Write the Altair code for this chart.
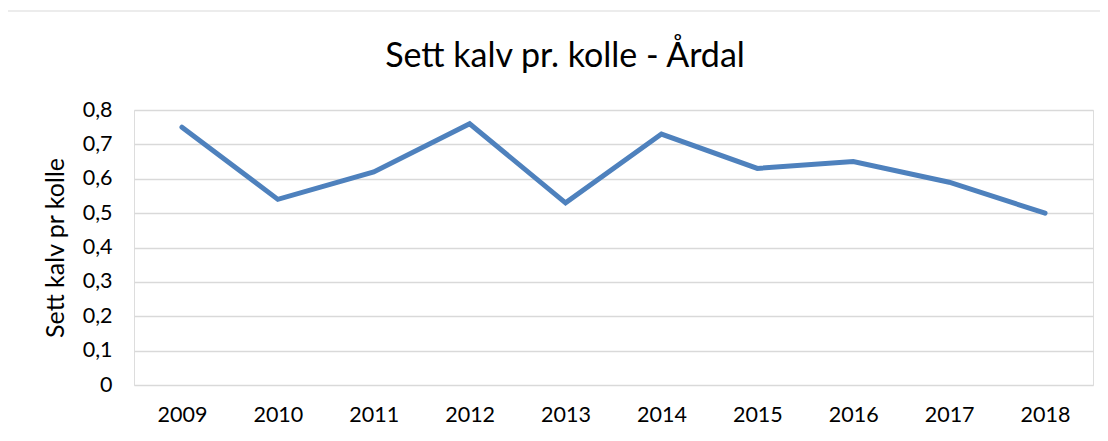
import altair as alt
import pandas as pd

years = ["2009", "2010", "2011", "2012", "2013", "2014", "2015", "2016", "2017", "2018"]
values = [0.75, 0.54, 0.62, 0.76, 0.53, 0.73, 0.63, 0.65, 0.59, 0.50]
y_ticks = [0, 0.1, 0.2, 0.3, 0.4, 0.5, 0.6, 0.7, 0.8]
title_text = "Sett kalv pr. kolle - Årdal"

df = pd.DataFrame({"year": years, "value": values})
FONT = "Lato"

border = alt.Chart(pd.DataFrame({"a": [0]})).mark_rect(
    fill=None, stroke="#d9d9d9", strokeWidth=1
).encode(
    x=alt.value(-129), x2=alt.value(969), y=alt.value(-99), y2=alt.value(340)
)

title = alt.Chart(pd.DataFrame({"t": [title_text]})).mark_text(
    font=FONT, fontSize=34, color="#000000", align="center", baseline="alphabetic"
).encode(text="t:N", x=alt.value(431), y=alt.value(-43))

line = alt.Chart(df).mark_line(
    color="#4e81bd", strokeWidth=5, strokeCap="round", strokeJoin="miter"
).encode(
    x=alt.X("year:N", sort=years, scale=alt.Scale(type="point", padding=0.5),
            axis=alt.Axis(title=None, labelAngle=0, domain=False, ticks=False,
                          labelPadding=19, labelFontSize=21.5, labelColor="#000000",
                          labelFont=FONT, grid=False)),
    y=alt.Y("value:Q", scale=alt.Scale(domain=[0, 0.8]),
            axis=alt.Axis(title="Sett kalv pr kolle", values=y_ticks,
                          labelExpr="datum.value == 0 ? '0' : replace(format(datum.value, '.1f'), '.', ',')",
                          domain=False, ticks=False, labelPadding=22,
                          labelFontSize=21.5, labelColor="#000000", labelFont=FONT,
                          titleFont=FONT, titleFontSize=25, titleFontWeight="normal",
                          titleColor="#000000", titlePadding=14,
                          grid=True, gridColor="#d9d9d9", gridWidth=1.5)),
)

chart = alt.layer(border, title, line).properties(
    width=959, height=275,
    autosize=alt.AutoSizeParams(type="none"),
    padding={"left": 126, "top": 102, "right": 7, "bottom": 48},
).configure_view(stroke=None).configure(background="#ffffff")

chart.save("out.html", embed_options={"renderer": "svg", "actions": False})
